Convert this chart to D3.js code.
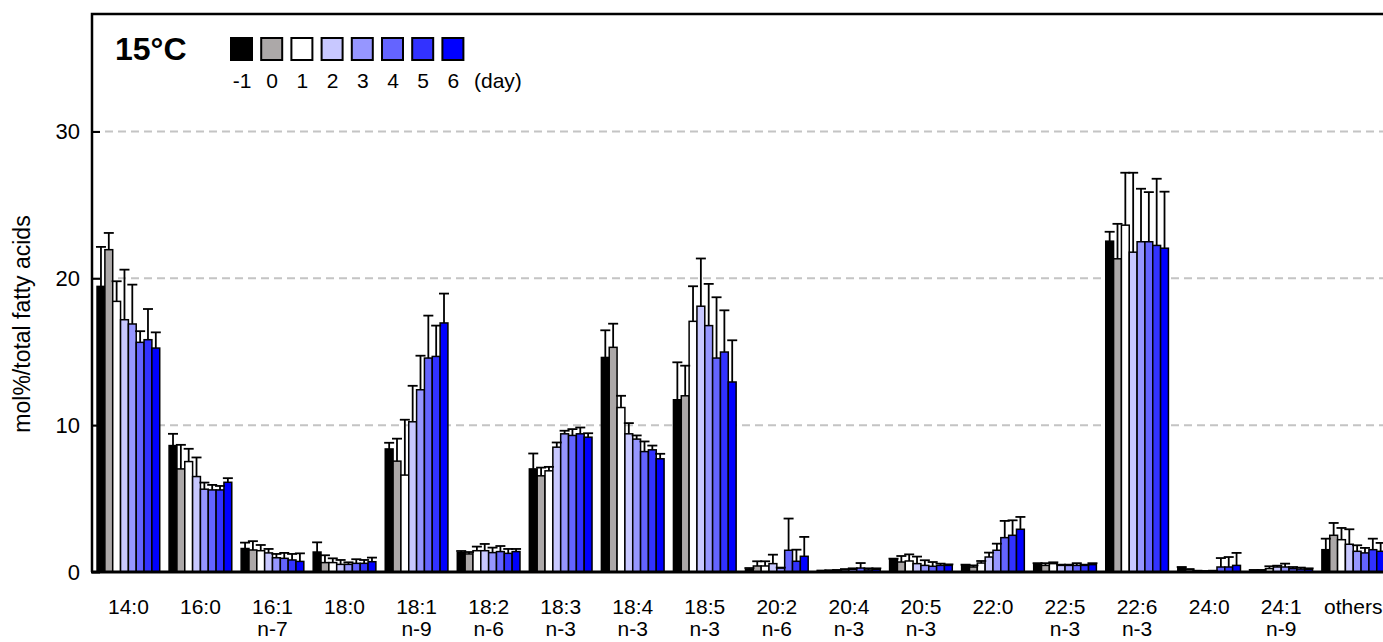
<!DOCTYPE html>
<html>
<head>
<meta charset="utf-8">
<script src="https://cdn.jsdelivr.net/npm/d3@7"></script>
<style>
  body { margin: 0; background: #fff; }
  svg { display: block; }
  text { font-family: "Liberation Sans", Arial, Helvetica, sans-serif; fill: #000; }
</style>
</head>
<body>
<svg id="chart" width="1383" height="642"></svg>
<script>
// Fatty acid composition (mol% of total fatty acids) at 15°C, day -1 to day 6
const categories = ["14:0", "16:0", "16:1", "18:0", "18:1", "18:2", "18:3", "18:4", "18:5",
                    "20:2", "20:4", "20:5", "22:0", "22:5", "22:6", "24:0", "24:1", "others"];
const subLabels  = ["", "", "n-7", "", "n-9", "n-6", "n-3", "n-3", "n-3",
                    "n-6", "n-3", "n-3", "", "n-3", "n-3", "", "n-9", ""];
const days = ["-1", "0", "1", "2", "3", "4", "5", "6"];
const yTicks = [0, 10, 20, 30];

// mean per fatty acid (rows) and day (columns)
const means = [
  [19.45, 21.95, 18.43, 17.18, 16.89, 15.64, 15.82, 15.25],
  [ 8.61,  7.02,  7.52,  6.50,  5.64,  5.59,  5.59,  6.11],
  [ 1.60,  1.50,  1.45,  1.30,  0.97,  0.93,  0.82,  0.72],
  [ 1.36,  0.64,  0.64,  0.52,  0.52,  0.59,  0.59,  0.70],
  [ 8.38,  7.55,  6.60, 10.23, 12.41, 14.57, 14.68, 16.96],
  [ 1.32,  1.23,  1.45,  1.45,  1.32,  1.39,  1.27,  1.39],
  [ 7.02,  6.55,  6.89,  8.50,  9.41,  9.30,  9.41,  9.18],
  [14.61, 15.30, 11.20,  9.41,  9.05,  8.20,  8.32,  7.71],
  [11.73, 12.00, 17.07, 18.10, 16.78, 14.57, 14.98, 12.94],
  [ 0.18,  0.41,  0.41,  0.57,  0.27,  1.48,  0.73,  1.07],
  [ 0.07,  0.09,  0.10,  0.14,  0.18,  0.27,  0.14,  0.18],
  [ 0.86,  0.68,  0.75,  0.57,  0.45,  0.39,  0.45,  0.45],
  [ 0.45,  0.34,  0.61,  1.02,  1.48,  2.34,  2.50,  2.91],
  [ 0.57,  0.45,  0.57,  0.45,  0.45,  0.45,  0.45,  0.50],
  [22.53, 21.33, 23.62, 21.78, 22.49, 22.49, 22.24, 22.05],
  [ 0.30,  0.16,  0.07,  0.05,  0.07,  0.34,  0.34,  0.45],
  [ 0.11,  0.11,  0.23,  0.34,  0.34,  0.23,  0.20,  0.18],
  [ 1.52,  2.50,  2.20,  1.89,  1.41,  1.30,  1.52,  1.41]
];

// standard deviation per fatty acid (rows) and day (columns)
const sds = [
  [2.69, 1.14, 1.37, 3.41, 2.68, 0.76, 2.09, 1.07],
  [0.80, 1.64, 0.87, 1.30, 0.45, 0.34, 0.27, 0.28],
  [0.40, 0.60, 0.39, 0.27, 0.26, 0.37, 0.41, 0.55],
  [0.66, 0.50, 0.29, 0.30, 0.14, 0.28, 0.23, 0.28],
  [0.42, 1.53, 3.77, 2.45, 2.32, 2.89, 2.10, 2.00],
  [0.11, 0.13, 0.28, 0.46, 0.34, 0.38, 0.30, 0.18],
  [1.05, 0.56, 0.27, 0.32, 0.21, 0.43, 0.43, 0.27],
  [1.85, 1.61, 0.80, 0.73, 0.25, 0.69, 0.29, 0.34],
  [2.55, 2.05, 2.39, 3.25, 2.84, 4.14, 2.84, 2.84],
  [0.09, 0.32, 0.32, 0.61, 0.03, 2.16, 0.79, 1.32],
  [0.03, 0.03, 0.04, 0.06, 0.07, 0.34, 0.11, 0.07],
  [0.05, 0.41, 0.45, 0.48, 0.35, 0.29, 0.12, 0.07],
  [0.05, 0.11, 0.14, 0.30, 0.45, 1.14, 1.02, 0.84],
  [0.03, 0.15, 0.09, 0.05, 0.05, 0.15, 0.05, 0.10],
  [0.64, 2.38, 3.57, 5.41, 3.61, 3.38, 4.54, 3.85],
  [0.04, 0.04, 0.02, 0.02, 0.02, 0.61, 0.68, 0.85],
  [0.03, 0.03, 0.16, 0.09, 0.23, 0.11, 0.10, 0.07],
  [0.75, 0.84, 0.80, 1.02, 0.41, 0.34, 0.75, 0.57]
];

const dayColors = ["#000000", "#aca8a8", "#ffffff", "#c8c8ff", "#9696ff", "#6464ff", "#3232ff", "#0000ff"];

(function draw() {
  const svg = d3.select("#chart");
  const W = 1383;
  const plotLeft = 92, plotTop = 14, plotBottom = 572;
  const step = 72.05;

  const x0 = d3.scaleBand()
    .domain(categories)
    .range([plotLeft, plotLeft + step * (categories.length - 0.13 + 0.14)])
    .paddingInner(0.13)
    .paddingOuter(0.07);

  const x1 = d3.scaleBand()
    .domain(days)
    .range([0, x0.bandwidth()]);

  const y = d3.scaleLinear().domain([0, 38]).range([plotBottom, plotTop]);

  // dashed grid lines
  svg.append("g")
    .selectAll("line")
    .data(yTicks.filter(d => d > 0))
    .join("line")
    .attr("x1", plotLeft).attr("x2", W)
    .attr("y1", d => y(d)).attr("y2", d => y(d))
    .attr("stroke", "#c4c4c4")
    .attr("stroke-width", 2)
    .attr("stroke-dasharray", "8,5");

  // bars
  const groups = svg.append("g")
    .selectAll("g")
    .data(categories)
    .join("g")
    .attr("transform", d => `translate(${x0(d)},0)`);

  groups.selectAll("rect")
    .data((c, i) => days.map((d, j) => ({ day: d, j, v: means[i][j] })))
    .join("rect")
    .attr("x", d => x1(d.day))
    .attr("y", d => y(d.v))
    .attr("width", x1.bandwidth())
    .attr("height", d => y(0) - y(d.v))
    .attr("fill", d => dayColors[d.j])
    .attr("stroke", "#000")
    .attr("stroke-width", 1.5);

  // error bars (upper half only)
  const errs = groups.selectAll("g.err")
    .data((c, i) => days.map((d, j) => ({ day: d, v: means[i][j], e: sds[i][j] })))
    .join("g")
    .attr("class", "err")
    .attr("stroke", "#000")
    .attr("stroke-width", 1.8);

  errs.append("line")
    .attr("x1", d => x1(d.day) + x1.bandwidth() / 2)
    .attr("x2", d => x1(d.day) + x1.bandwidth() / 2)
    .attr("y1", d => y(d.v))
    .attr("y2", d => y(d.v + d.e));

  errs.append("line")
    .attr("x1", d => x1(d.day) + x1.bandwidth() / 2 - 5)
    .attr("x2", d => x1(d.day) + x1.bandwidth() / 2 + 5)
    .attr("y1", d => y(d.v + d.e))
    .attr("y2", d => y(d.v + d.e));

  // frame: top line and left axis
  svg.append("path")
    .attr("d", `M${plotLeft},${plotBottom}V${plotTop}H${W}`)
    .attr("fill", "none")
    .attr("stroke", "#000")
    .attr("stroke-width", 2.5);

  // y axis with inward ticks
  const yAxis = svg.append("g")
    .attr("transform", `translate(${plotLeft},0)`)
    .call(d3.axisLeft(y).tickValues(yTicks).tickSizeInner(-8).tickSizeOuter(0).tickPadding(12));
  yAxis.select(".domain").remove();
  yAxis.selectAll(".tick line").attr("stroke", "#000").attr("stroke-width", 2);
  yAxis.selectAll(".tick text")
    .attr("font-size", 22)
    .attr("font-family", "Liberation Sans, Arial, sans-serif");

  // baseline
  svg.append("line")
    .attr("x1", plotLeft - 1).attr("x2", W)
    .attr("y1", y(0)).attr("y2", y(0))
    .attr("stroke", "#000")
    .attr("stroke-width", 3);

  // category labels (two lines)
  const xl = svg.append("g").selectAll("g")
    .data(categories)
    .join("g")
    .attr("transform", d => `translate(${x0(d) + x0.bandwidth() / 2},0)`);
  xl.append("text")
    .attr("y", 614)
    .attr("text-anchor", "middle")
    .attr("font-size", 21)
    .text(d => d);
  xl.append("text")
    .attr("y", 636)
    .attr("text-anchor", "middle")
    .attr("font-size", 21)
    .text((d, i) => subLabels[i]);

  // y axis title
  svg.append("text")
    .attr("transform", "translate(30,324) rotate(-90)")
    .attr("text-anchor", "middle")
    .attr("font-size", 23)
    .text("mol%/total fatty acids");

  // legend
  svg.append("text")
    .attr("x", 115).attr("y", 60)
    .attr("font-size", 32)
    .attr("font-weight", "bold")
    .text("15°C");

  const lg = svg.append("g").selectAll("g")
    .data(days)
    .join("g")
    .attr("transform", (d, i) => `translate(${231 + i * 30.2},38)`);
  lg.append("rect")
    .attr("width", 21).attr("height", 22)
    .attr("fill", (d, i) => dayColors[i])
    .attr("stroke", "#000")
    .attr("stroke-width", 2);
  lg.append("text")
    .attr("x", 11).attr("y", 50)
    .attr("text-anchor", "middle")
    .attr("font-size", 21)
    .text(d => d);
  svg.append("text")
    .attr("x", 474).attr("y", 88)
    .attr("font-size", 21)
    .text("(day)");
})();
</script>
</body>
</html>
